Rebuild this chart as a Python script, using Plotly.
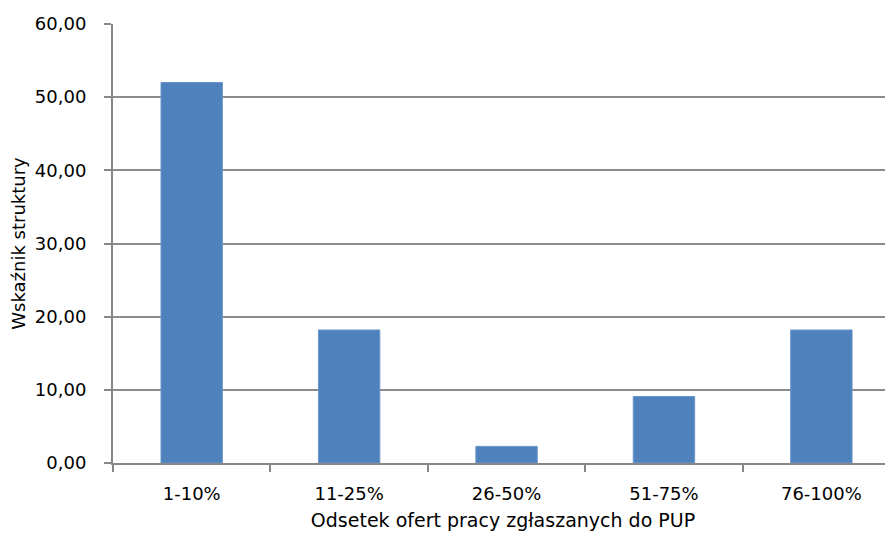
import plotly.graph_objects as go

categories = ["1-10%", "11-25%", "26-50%", "51-75%", "76-100%"]
values = [52.0, 18.18, 2.27, 9.09, 18.18]
y_ticks = [0, 10, 20, 30, 40, 50, 60]
y_tick_labels = ["0,00", "10,00", "20,00", "30,00", "40,00", "50,00", "60,00"]

_FONT = "Tahoma, 'DejaVu Sans', Verdana, sans-serif"

fig = go.Figure(go.Bar(
    x=categories,
    y=values,
    marker=dict(color="#4F81BD", line=dict(color="#6A96CC", width=1)),
    width=0.39,
))

# page body has an 8px margin, so the figure is shifted and shrunk accordingly
fig.update_layout(
    width=885,
    height=530,
    paper_bgcolor="white",
    plot_bgcolor="white",
    font=dict(family=_FONT, size=18, color="#000000"),
    margin=dict(l=105, r=0, t=16, b=75),
    showlegend=False,
)

fig.update_xaxes(
    type="category",
    range=[-0.5, 4.455],
    showline=True,
    linecolor="#878787",
    linewidth=2,
    ticks="outside",
    tickson="boundaries",
    ticklen=7,
    tickcolor="#878787",
    tickwidth=1.5,
    showgrid=False,
    tickfont=dict(size=18),
    ticklabelstandoff=13,
    title=dict(text="Odsetek ofert pracy zgłaszanych do PUP",
               font=dict(size=19), standoff=11),
)

fig.update_yaxes(
    range=[0, 60],
    tickvals=y_ticks,
    ticktext=y_tick_labels,
    showline=True,
    linecolor="#878787",
    linewidth=2,
    ticks="outside",
    ticklen=7,
    tickcolor="#878787",
    tickwidth=1.5,
    showgrid=True,
    gridcolor="#8C8C8C",
    gridwidth=1.5,
    zeroline=False,
    ticklabelstandoff=14,
    tickfont=dict(size=18),
    title=dict(text="Wskaźnik struktury", font=dict(size=18), standoff=6),
)

fig.write_html("out.html")
